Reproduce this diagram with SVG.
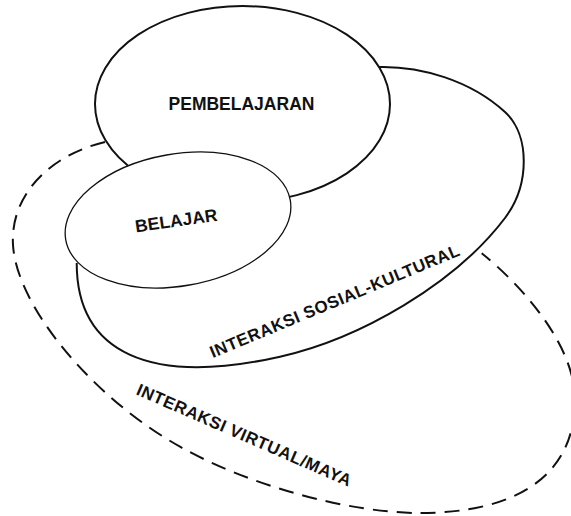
<svg xmlns="http://www.w3.org/2000/svg" width="571" height="516" viewBox="0 0 571 516">
<style>
  .lbl { font-family: "Liberation Sans", Arial, sans-serif; font-weight: bold; font-size: 17px; letter-spacing: 0.5px; fill: #111; text-anchor: middle; }
  .big { font-size: 17.5px; letter-spacing: 0; }
  .solid { fill: none; stroke: #111; stroke-width: 2; }
  .dash { fill: none; stroke: #111; stroke-width: 2; stroke-dasharray: 15 9; }
  .node { fill: #fff; stroke: #111; stroke-width: 2; }
  .thin { fill: #fff; stroke: #111; stroke-width: 1.3; }
</style>
<rect width="571" height="516" fill="#fff"/>
<g id="interaksi-virtual">
  <path class="dash" d="M105,142 C50,155 10,195 13,245 C16.6,305 90,396 180,446.7 C250,486 350,513 420,513 C510,513 575,480 575,400 C575,345 521.7,285.3 481.7,253.3"/>
  <text class="lbl" transform="translate(242,440.5) rotate(23.5)">INTERAKSI VIRTUAL/MAYA</text>
</g>
<g id="interaksi-sosial-kultural">
  <path class="solid" d="M379,67 C420,66 470,80 505,112 C530,135 530,185 505,218 C455,284 360,338.7 280,356.7 C150,386 76.7,353 76.7,263"/>
  <text class="lbl" transform="translate(337,306.5) rotate(-22.6)">INTERAKSI SOSIAL-KULTURAL</text>
</g>
<g id="pembelajaran">
  <ellipse class="node" cx="242.5" cy="104" rx="147.5" ry="98"/>
  <text class="lbl big" x="241.5" y="109.5">PEMBELAJARAN</text>
</g>
<g id="belajar">
  <ellipse class="thin" cx="178" cy="220" rx="114" ry="66" transform="rotate(-10 178 220)"/>
  <text class="lbl big" transform="translate(177,226.5) rotate(-8.2)">BELAJAR</text>
</g>
</svg>
